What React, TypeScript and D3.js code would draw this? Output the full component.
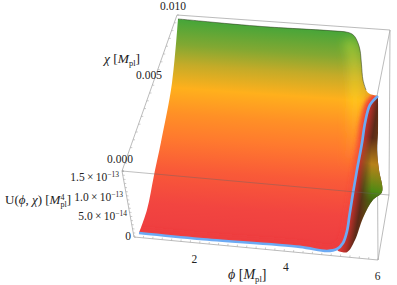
import React from "react";
import * as d3 from "d3";

type P = [number, number];

// Surface silhouette, phi [Mpl] and chi [Mpl]
const leftPhi = [0.779, 0.954, 1.107, 1.26, 1.5, 1.631];
const leftChi = [0.0002, 0.00128, 0.00287, 0.00439, 0.0071, 0.01001];
const topPhi = [1.631, 2.112, 2.833, 3.575, 5.017, 5.323, 5.432, 5.498, 5.563, 5.607, 5.64, 5.672, 5.738, 5.825, 6.0];
const topChi = [0.01001, 0.01001, 0.01001, 0.01003, 0.01013, 0.01013, 0.01007, 0.00995, 0.00969, 0.00938, 0.00872, 0.00804, 0.00761, 0.00744, 0.00739];
// Valley trajectory (blue curve)
const valleyPhi = [6.0, 5.825, 5.716, 5.65, 5.541, 5.454, 5.378, 5.323, 5.235, 5.104, 4.886, 4.296, 2.112, 0.779];
const valleyChi = [0.00739, 0.00695, 0.00612, 0.0052, 0.00397, 0.00291, 0.00191, 0.00117, 0.00062, 0.00032, 0.00019, 0.00026, 0.00019, 0.0002];
// Crest of the plateau (lit band)
const ridgePhi = [5.35, 5.45, 5.5, 5.48, 5.42, 5.3];
const ridgeChi = [0.0098, 0.0092, 0.0078, 0.0062, 0.0048, 0.0033];
// Outer wall behind the valley
const wallPhi = [6.0, 6.0, 5.978, 6.022, 6.087, 5.891, 5.672, 5.498, 5.323, 5.126];
const wallChi = [0.00739, 0.00572, 0.00495, 0.00406, 0.00308, 0.00269, 0.00183, 0.0008, 0.00022, 0.00024];

const phiTicks = [2, 4, 6];
const chiTicks = [0, 0.005, 0.01];
const chiTickLabels = ["0.000", "0.005", "0.010"];
const uTicks = [0, 5e-14, 1e-13, 1.5e-13];
const uTickMantissa = ["0", "5.0", "1.0", "1.5"];
const uTickExponent = ["", "−14", "−13", "−13"];

const surfaceStops: [number, string][] = [
  [0, "#3fa53a"], [0.13, "#82a832"], [0.22, "#c4ab28"], [0.33, "#ffb01c"], [0.45, "#ff9026"],
  [0.56, "#ff7a2e"], [0.71, "#f95a38"], [0.87, "#f24540"], [1, "#ee3e40"],
];

const A: P = [134, 237], B: P = [378, 260], C: P = [377, 96];
const E: P = [122, 171], F: P = [389, 195], G: P = [390, 30], H: P = [177, 15];

const phiX = d3.scaleLinear().domain([0.67, 6]).range([A[0], B[0]]);
const phiY = d3.scaleLinear().domain([0.67, 6]).range([A[1], B[1]]);
const levelY = d3.scaleLinear().domain([0, 0.01]).range([0, -222]);
const project = (phi: number, chi: number): P => [phiX(phi), phiY(phi) + levelY(chi)];

const uY = d3.scaleLinear().domain([0, 1.5e-13]).range([236, 177]);
const uEnd = d3.scaleLinear().domain([0, 1.5e-13]).range([131, 119]);
const chiLabelX = d3.scaleLinear().domain([0, 0.005, 0.01]).range([120, 149, 173]);
const chiLabelY = d3.scaleLinear().domain([0, 0.005, 0.01]).range([159, 75, 6]);

const zip = (a: number[], b: number[]) => a.map((v, i) => project(v, b[i]));
const line = d3.line<P>().curve(d3.curveCatmullRom.alpha(0.5));
const left = zip(leftPhi, leftChi);
const top = zip(topPhi, topChi);
const valley = zip(valleyPhi, valleyChi);
const ridge = zip(ridgePhi, ridgeChi);
const wall = zip(wallPhi, wallChi);
const join = (...parts: P[][]) =>
  parts.map((p, i) => { const s = line(p) as string; return i === 0 ? s : "L" + s.slice(1); }).join("") + "Z";

const mainPath = join(left, top, valley);
const wallPath = join(wall, [...valley].reverse().filter((p) => p[0] > 336));

const frame: [P, P][] = [[A, B], [B, C], [B, F], [A, E], [E, H], [H, G], [G, F], [G, C]];
const serif = "'Liberation Serif', serif";
const FS = 11.5;

const Mpl = ({ power, fs }: { power?: string; fs: number }) => (
  <>
    <tspan fontStyle="italic">M</tspan>
    {power ? <tspan dy={-4.5} fontSize={fs * 0.62}>{power}</tspan> : null}
    <tspan dy={power ? 7.5 : 2.5} dx={power ? -4 : 0} fontSize={fs * 0.62}>pl</tspan>
    <tspan dy={power ? -3 : -2.5}>]</tspan>
  </>
);

function minorTicks(p: P, q: P, n: number, dir: P, len: number) {
  const t = d3.range(0, n + 1).map((i) => i / n);
  return t.map((k, i) => {
    const x = p[0] + (q[0] - p[0]) * k, y = p[1] + (q[1] - p[1]) * k;
    return <line key={i} x1={x} y1={y} x2={x + dir[0] * len} y2={y + dir[1] * len} stroke="#aaa" strokeWidth={0.6} />;
  });
}

export default function App() {
  return (
    <svg width={397} height={285} viewBox="0 0 397 285" style={{ position: "absolute", left: 0, top: 0 }}>
      <defs>
        <linearGradient id="sg" gradientUnits="userSpaceOnUse" x1={255} y1={22} x2={240} y2={237}>
          {surfaceStops.map(([o, c]) => <stop key={o} offset={o} stopColor={c} />)}
        </linearGradient>
        <linearGradient id="hl" gradientUnits="userSpaceOnUse" x1={350} y1={30} x2={350} y2={170}>
          <stop offset={0} stopColor="#8ed83a" stopOpacity={0.6} />
          <stop offset={0.3} stopColor="#e0d030" stopOpacity={0.55} />
          <stop offset={0.5} stopColor="#ffd01c" stopOpacity={0.7} />
          <stop offset={1} stopColor="#ff9026" stopOpacity={0} />
        </linearGradient>
        <linearGradient id="rb" gradientUnits="userSpaceOnUse" x1={365} y1={95} x2={350} y2={185}>
          <stop offset={0} stopColor="#ef3a3a" stopOpacity={1} />
          <stop offset={0.5} stopColor="#ef3a3a" stopOpacity={0.75} />
          <stop offset={1} stopColor="#ef3a3a" stopOpacity={0.25} />
        </linearGradient>
        <linearGradient id="wg" gradientUnits="userSpaceOnUse" x1={352} y1={160} x2={381} y2={165}>
          <stop offset={0} stopColor="#ee3c3c" />
          <stop offset={0.3} stopColor="#b8302a" />
          <stop offset={0.55} stopColor="#5c2a18" />
          <stop offset={0.8} stopColor="#6a3a14" />
          <stop offset={1} stopColor="#5a2418" />
        </linearGradient>
        <linearGradient id="wo" gradientUnits="userSpaceOnUse" x1={358} y1={240} x2={382} y2={140}>
          <stop offset={0} stopColor="#3f6a10" stopOpacity={0} />
          <stop offset={0.4} stopColor="#3f6a10" stopOpacity={0.9} />
          <stop offset={0.5} stopColor="#4f8a14" stopOpacity={1} />
          <stop offset={0.75} stopColor="#c08a1a" stopOpacity={0.9} />
          <stop offset={1} stopColor="#c08a1a" stopOpacity={0} />
        </linearGradient>
        <linearGradient id="wm" gradientUnits="userSpaceOnUse" x1={352} y1={190} x2={380} y2={190}>
          <stop offset={0.25} stopColor="#000" />
          <stop offset={0.7} stopColor="#fff" />
        </linearGradient>
        <mask id="wmask" maskUnits="userSpaceOnUse" x={330} y={90} width={67} height={180}>
          <rect x={330} y={90} width={67} height={180} fill="url(#wm)" />
        </mask>
        <clipPath id="mc"><path d={mainPath} /></clipPath>
        <clipPath id="wc"><path d={wallPath} /></clipPath>
        <filter id="bl" x="-50%" y="-50%" width="200%" height="200%"><feGaussianBlur stdDeviation={2} /></filter>
        <filter id="bl2" x="-100%" y="-50%" width="300%" height="200%"><feGaussianBlur stdDeviation={5} /></filter>
      </defs>

      <rect width={397} height={285} fill="#fff" />

      {frame.map(([p, q], i) => (
        <line key={i} x1={p[0]} y1={p[1]} x2={q[0]} y2={q[1]} stroke="#aaa" strokeWidth={0.8} />
      ))}
      {minorTicks(A, B, 26, [0.1, -1], 2)}
      {minorTicks(E, A, 16, [1, 0.1], 2)}
      {minorTicks(E, H, 20, [1, 0], 2)}

      <path d={wallPath} fill="url(#wg)" />
      <g clipPath="url(#wc)"><g mask="url(#wmask)"><rect x={330} y={90} width={67} height={180} fill="url(#wo)" /></g></g>

      <path d={mainPath} fill="url(#sg)" />
      <g clipPath="url(#mc)">
        <path d={line(ridge) as string} fill="none" stroke="url(#hl)" strokeWidth={12} filter="url(#bl2)" />
        <path d={line(valley) as string} fill="none" stroke="url(#rb)" strokeWidth={10} filter="url(#bl)" />
      </g>
      <path d={line(top.slice(0, 13)) as string} fill="none" stroke="#2f3a20" strokeWidth={0.7} strokeOpacity={0.75} />
      <path d={line(valley) as string} fill="none" stroke="#6caaf4" strokeWidth={2.7} />

      <line x1={E[0]} y1={E[1]} x2={F[0]} y2={F[1]} stroke="#666" strokeOpacity={0.6} strokeWidth={0.7} />

      <g fontFamily={serif} fontSize={FS} fill="#222">
        {phiTicks.map((t) => (
          <text key={t} x={phiX(t) - 0.5} y={phiY(t) + 20} textAnchor="middle">{t}</text>
        ))}
        {chiTicks.map((t, i) => (
          <text key={t} x={chiLabelX(t)} y={chiLabelY(t) + 4} textAnchor="middle">{chiTickLabels[i]}</text>
        ))}
        {uTicks.map((t, i) => (
          <text key={t} x={uEnd(t)} y={uY(t) + 4} textAnchor="end">
            {uTickMantissa[i]}
            {i > 0 ? <>{"\u2009×\u200910"}<tspan dy={-4} fontSize={7.5}>{uTickExponent[i]}</tspan></> : null}
          </text>
        ))}
        <text x={104} y={63} fontSize={13.5}>
          <tspan fontStyle="italic">χ</tspan> [<Mpl fs={13.5} />
        </text>
        <text x={5} y={204} fontSize={13}>
          U(<tspan fontStyle="italic">ϕ</tspan>, <tspan fontStyle="italic">χ</tspan>) [<Mpl power="4" fs={13} />
        </text>
        <text x={228} y={279} fontSize={14}>
          <tspan fontStyle="italic">ϕ</tspan> [<Mpl fs={14} />
        </text>
      </g>
    </svg>
  );
}
